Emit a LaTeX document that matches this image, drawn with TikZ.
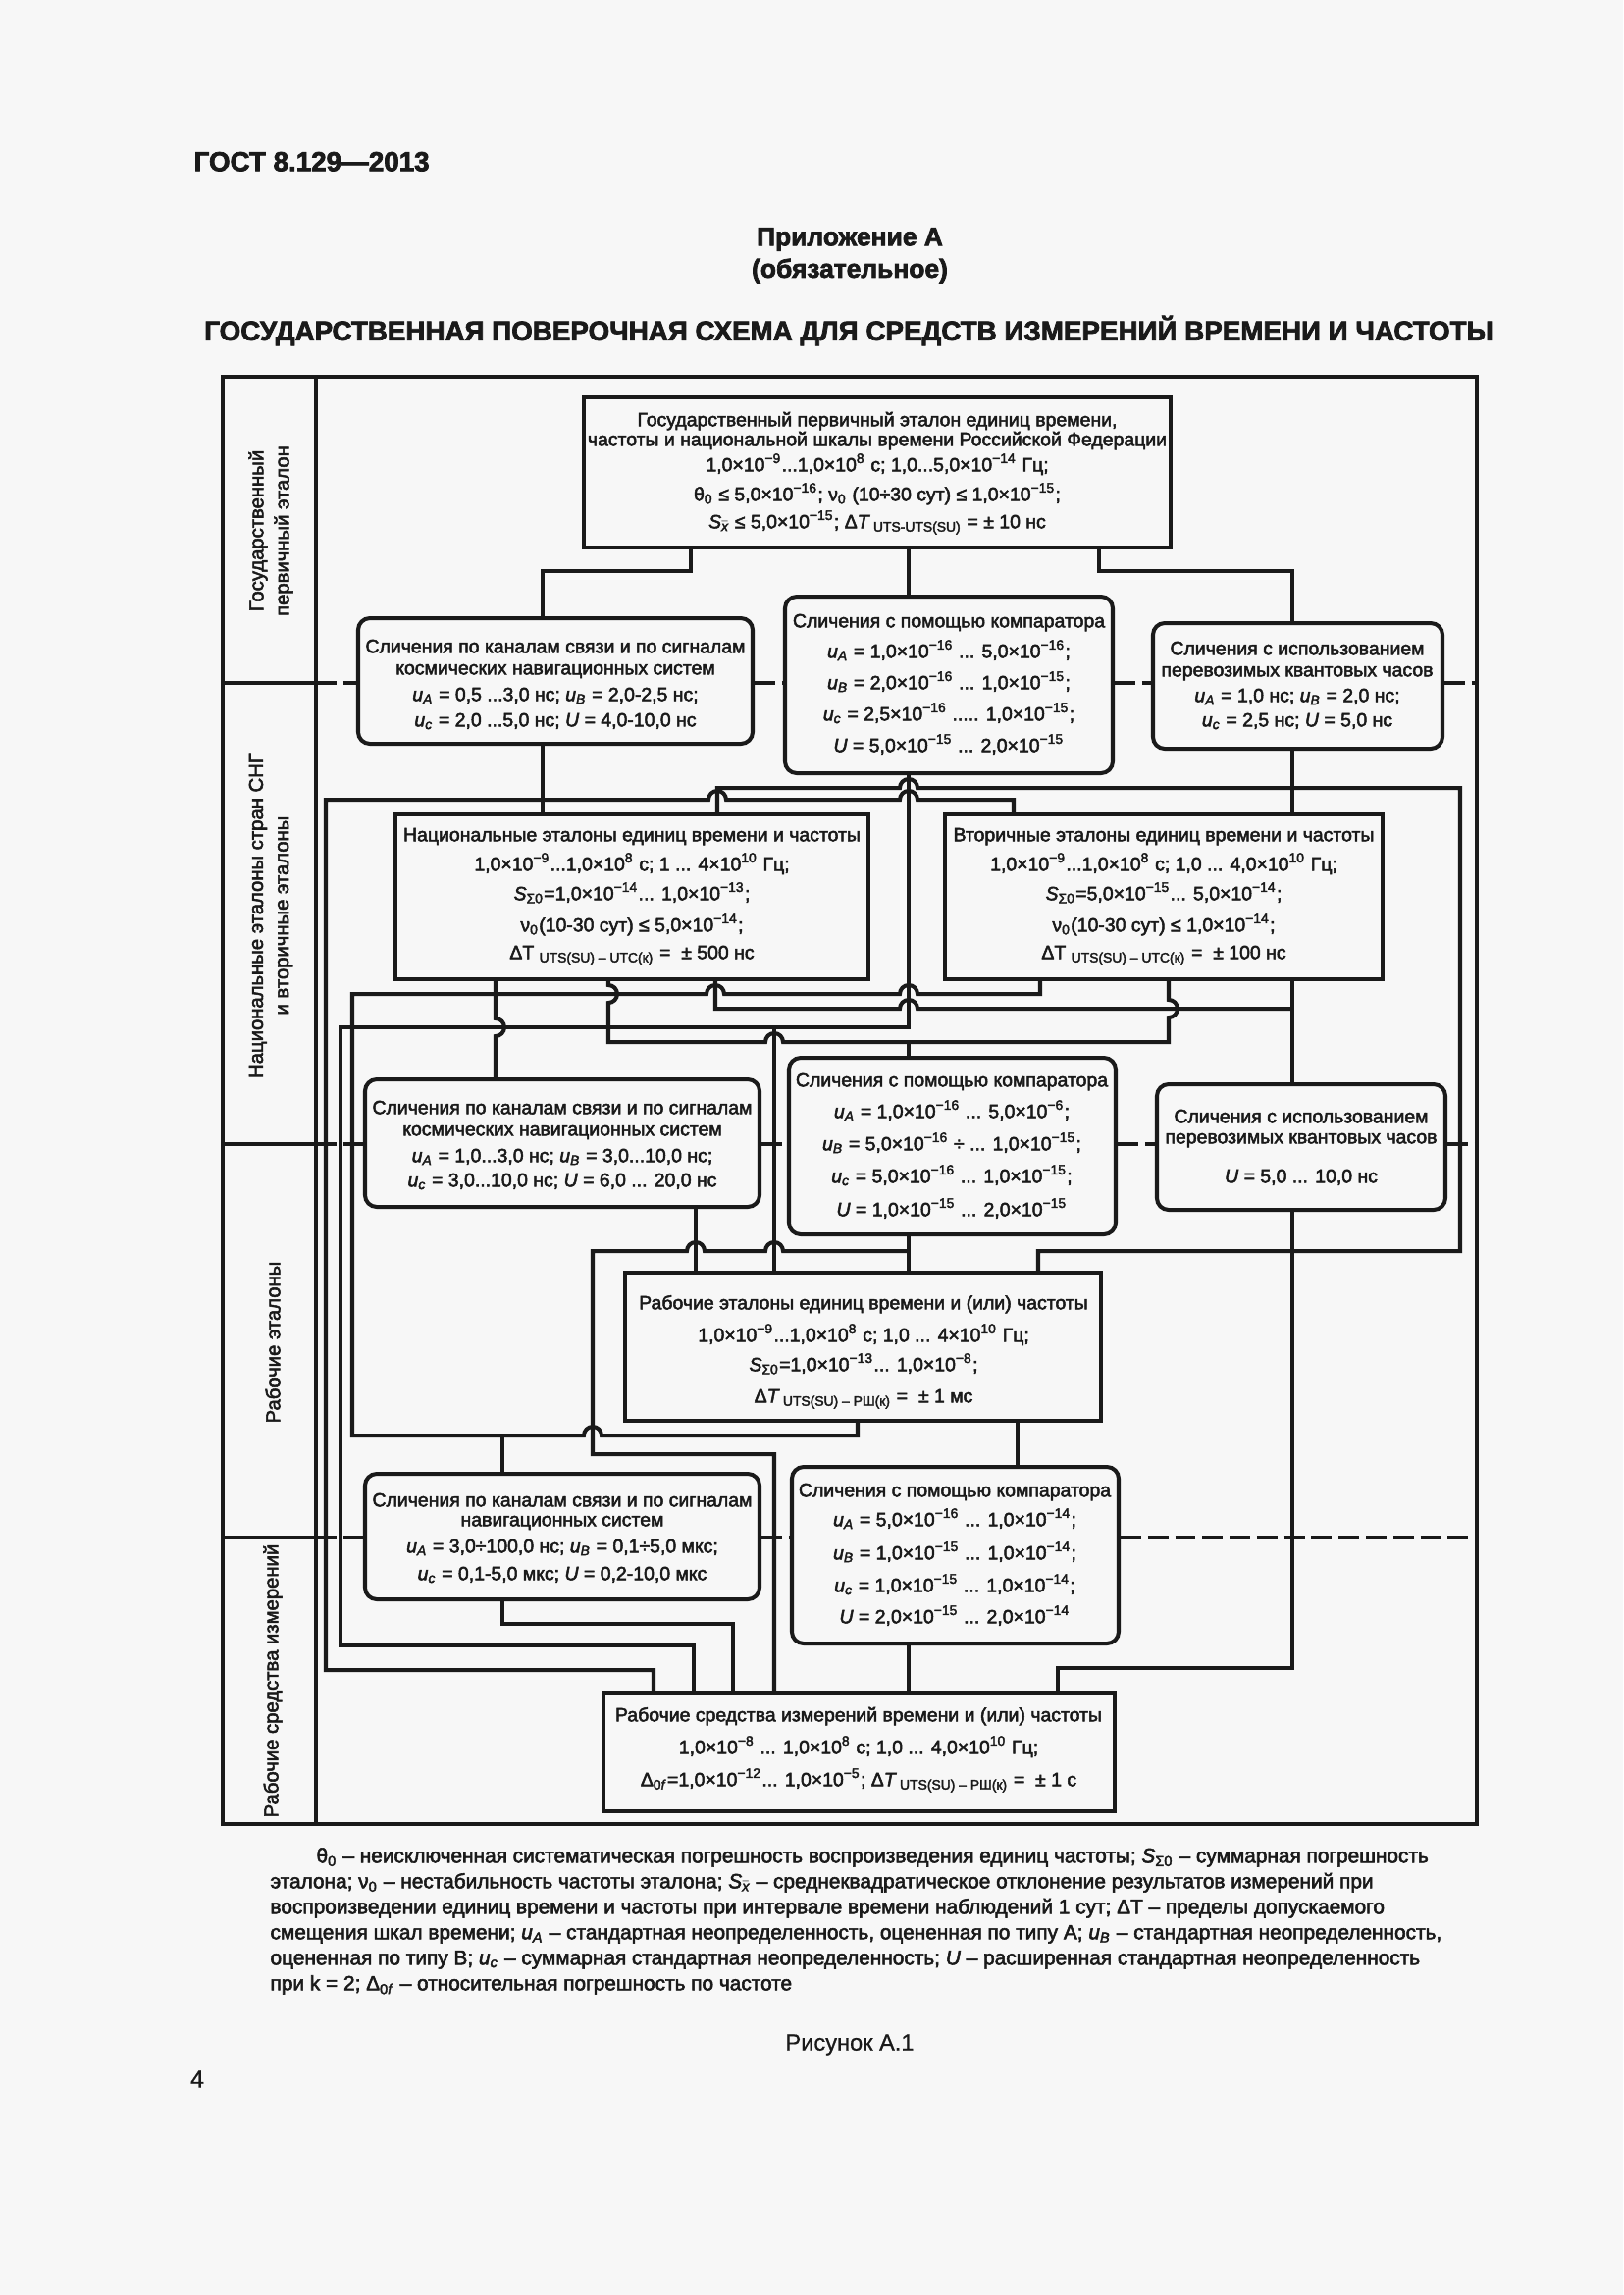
\documentclass[tikz,border=0pt]{standalone}
\usepackage{fontspec}
\setmainfont{Liberation Sans}[FakeBold=2.6]
\newfontfamily\plainsans{Liberation Sans}[FakeBold=0.8]
\usetikzlibrary{fit}
\definecolor{ink}{HTML}{1A1A1A}
\definecolor{paper}{HTML}{F7F7F7}
\newcommand\sps[1]{\textsuperscript{#1}}
\newcommand\sbs[1]{\textsubscript{#1}}
\newcommand\uu[1]{\textit{u}\textsubscript{\textit{#1}}}
\newcommand\UU{\textit{U}}
\newcommand\Sit{\textit{S}}
\newcommand\xbar{$\bar{\mbox{\itshape x}}$}
\newcommand\boxtext[3]{\foreach \yy/\lt [count=\ii] in {#3} {\node[txt] (#1t\ii) at (#2,\yy) {\lt};}}
\begin{document}
\begin{tikzpicture}[x=0.36pt,y=-0.36pt,
  sbox/.style={draw=ink, line width=1.45pt, inner sep=0pt, fill=paper},
  rbox/.style={sbox, rounded corners=4.3pt},
  txt/.style={inner sep=0pt, anchor=mid, text=ink, font=\fontsize{7}{8.4}\selectfont},
  conn/.style={draw=ink, line width=1.45pt},
  sepl/.style={draw=ink, line width=1.45pt, dash pattern=on 7.5pt off 2.5pt},
  lbl/.style={rotate=90, align=center, inner sep=0pt, text=ink, font=\fontsize{7.3}{9.4}\selectfont},
  note/.style={anchor=mid west, inner sep=0pt, text=ink, font=\fontsize{7.5}{9}\selectfont}]
\fill[paper] (0,0) rectangle (1654,2339);
\useasboundingbox (0,0) rectangle (1654,2339);

% header
\node[anchor=mid west, inner sep=0pt, text=ink, font=\bfseries\fontsize{10}{12}\selectfont] (hdr) at (197,167) {ГОСТ 8.129—2013};
\node[inner sep=0pt, text=ink, font=\bfseries\fontsize{9.5}{11}\selectfont] (app) at (866,244) {Приложение А};
\node[inner sep=0pt, text=ink, font=\bfseries\fontsize{9.5}{11}\selectfont] (app2) at (866,276) {(обязательное)};
\node[inner sep=0pt, text=ink, font=\bfseries\fontsize{10}{12}\selectfont] (title) at (865,337) {ГОСУДАРСТВЕННАЯ ПОВЕРОЧНАЯ СХЕМА ДЛЯ СРЕДСТВ ИЗМЕРЕНИЙ ВРЕМЕНИ И ЧАСТОТЫ};

% frame
\draw[conn] (227,384) rectangle (1505,1859);
\draw[conn] (322,384) -- (322,1859);
\draw[conn] (227,696) -- (322,696);
\draw[conn] (227,1166) -- (322,1166);
\draw[conn] (227,1567) -- (322,1567);
\node[lbl] (L1) at (276,541) {Государственный\\первичный эталон};
\node[lbl] (L2) at (276,933) {Национальные эталоны стран СНГ\\и вторичные эталоны};
\node[lbl] (L3) at (278,1368) {Рабочие эталоны};
\node[lbl] (L4) at (278,1713) {Рабочие средства измерений};

% boxes
\node[sbox, fit={(595,405) (1193,558)}] (B1) {};
\node[rbox, fit={(365,630) (767,758)}] (B2) {};
\node[rbox, fit={(800,608) (1134,788)}] (B3) {};
\node[rbox, fit={(1175,635) (1470,763)}] (B4) {};
\node[sbox, fit={(403,830) (885,998)}] (B5) {};
\node[sbox, fit={(963,830) (1409,998)}] (B6) {};
\node[rbox, fit={(372,1100) (774,1230)}] (B7) {};
\node[rbox, fit={(804,1078) (1137,1258)}] (B8) {};
\node[rbox, fit={(1179,1105) (1473,1233)}] (B9) {};
\node[sbox, fit={(637,1297) (1122,1448)}] (B10) {};
\node[rbox, fit={(372,1502) (774,1630)}] (B11) {};
\node[rbox, fit={(807,1495) (1140,1675)}] (B12) {};
\node[sbox, fit={(615,1725) (1136,1846)}] (B13) {};

% dashed level separators
\draw[sepl] (322,696) -- (B2.west |- 0,696);
\draw[sepl] (B2.east |- 0,696) -- (B3.west |- 0,696);
\draw[sepl] (B3.east |- 0,696) -- (B4.west |- 0,696);
\draw[sepl] (B4.east |- 0,696) -- (1505,696);
\draw[sepl] (322,1166) -- (B7.west |- 0,1166);
\draw[sepl] (B7.east |- 0,1166) -- (B8.west |- 0,1166);
\draw[sepl] (B8.east |- 0,1166) -- (B9.west |- 0,1166);
\draw[sepl] (B9.east |- 0,1166) -- (1505,1166);
\draw[sepl] (322,1567) -- (B11.west |- 0,1567);
\draw[sepl] (B11.east |- 0,1567) -- (B12.west |- 0,1567);
\draw[sepl] (B12.east |- 0,1567) -- (1505,1567);

% connectors
\draw[conn] (B1.south -| 704,0) -- (704,582) -- (553,582) -- (B2.north -| 553,0);
\draw[conn] (B1.south -| 926,0) -- (B3.north -| 926,0);
\draw[conn] (B1.south -| 1120,0) -- (1120,582) -- (1317,582) -- (B4.north -| 1317,0);
\draw[conn] (B2.south -| 553,0) -- (B5.north -| 553,0);
\draw[conn] (B4.south -| 1317,0) -- (B6.north -| 1317,0);
% line A
\draw[conn] (B5.north -| 731,0) -- (731,803) -- (917,803) arc[start angle=180,end angle=360,radius=9] -- (1488,803) -- (1488,1275) -- (1058,1275) -- (B10.north -| 1058,0);
% line B
\draw[conn] (B6.north -| 1033,0) -- (1033,815) -- (935,815) arc[start angle=0,end angle=-180,radius=9] -- (740,815) arc[start angle=0,end angle=-180,radius=9] -- (332,815) -- (332,1702) -- (666,1702) -- (B13.north -| 666,0);
% line E from comparator B3
\draw[conn] (B3.south -| 926,0) -- (926,1047) -- (347,1047) -- (347,1677) -- (707,1677) -- (B13.north -| 707,0);
\coordinate (jE) at (789,1047);
\draw[conn] (jE) -- (B10.north -| 789,0);
% line C
\draw[conn] (B6.south -| 1060,0) -- (1060,1013) -- (935,1013) arc[start angle=0,end angle=-180,radius=9] -- (738,1013) arc[start angle=0,end angle=-180,radius=9] -- (359,1013) -- (359,1463) -- (595,1463) arc[start angle=180,end angle=360,radius=9] -- (874,1463) -- (B10.south -| 874,0);
\coordinate (jH) at (512,1463);
\draw[conn] (jH) -- (B11.north -| 512,0);
% line D
\coordinate (jD) at (1317,1028);
\draw[conn] (B5.south -| 729,0) -- (729,1028) -- (917,1028) arc[start angle=180,end angle=360,radius=9] -- (jD);
% line F
\draw[conn] (B5.south -| 620,0) -- (620,1004) arc[start angle=-90,end angle=90,radius=9] -- (620,1062) -- (780,1062) arc[start angle=180,end angle=360,radius=9] -- (1191,1062) -- (1191,1037) arc[start angle=90,end angle=-90,radius=9] -- (B6.south -| 1191,0);
\coordinate (jF) at (926,1062);
\draw[conn] (jF) -- (B8.north -| 926,0);
% national -> B7
\draw[conn] (B5.south -| 505,0) -- (505,1038) arc[start angle=-90,end angle=90,radius=9] -- (B7.north -| 505,0);
\draw[conn] (B7.south -| 709,0) -- (B10.north -| 709,0);
% line G from B8
\draw[conn] (B8.south -| 926,0) -- (B10.north -| 926,0);
\coordinate (jG) at (926,1275);
\draw[conn] (jG) -- (798,1275) arc[start angle=0,end angle=-180,radius=9] -- (718,1275) arc[start angle=0,end angle=-180,radius=9] -- (604,1275) -- (604,1482) -- (789,1482) -- (B13.north -| 789,0);
% right chain
\draw[conn] (B6.south -| 1317,0) -- (B9.north -| 1317,0);
\draw[conn] (B9.south -| 1317,0) -- (1317,1700) -- (1078,1700) -- (B13.north -| 1078,0);
\draw[conn] (B10.south -| 1037,0) -- (B12.north -| 1037,0);
\draw[conn] (B12.south -| 926,0) -- (B13.north -| 926,0);
\draw[conn] (B11.south -| 512,0) -- (512,1655) -- (747,1655) -- (B13.north -| 747,0);

% box texts
\boxtext{B1}{894}{427/{Государственный первичный эталон единиц времени,},
447/{частоты и национальной шкалы времени Российской Федерации},
473/{1,0×10\sps{−9}...1,0×10\sps{8} с; 1,0...5,0×10\sps{−14} Гц;},
503/{θ\sbs{0} ≤ 5,0×10\sps{−16}; ν\sbs{0} (10÷30 сут) ≤ 1,0×10\sps{−15};},
531/{\Sit\sbs{\xbar} ≤ 5,0×10\sps{−15}; Δ\textit{T}\,\sbs{UTS-UTS(SU)} = ± 10 нс}}
\boxtext{B2}{566}{658/{Сличения по каналам связи и по сигналам},
680/{космических навигационных систем},
707/{\uu{A} = 0,5 ...3,0 нс; \uu{B} = 2,0-2,5 нс;},
733/{\uu{c} = 2,0 ...5,0 нс; \UU{} = 4,0-10,0 нс}}
\boxtext{B3}{967}{632/{Сличения с помощью компаратора},
663/{\uu{A} = 1,0×10\sps{−16} ... 5,0×10\sps{−16};},
695/{\uu{B} = 2,0×10\sps{−16} ... 1,0×10\sps{−15};},
727/{\uu{c} = 2,5×10\sps{−16} ..... 1,0×10\sps{−15};},
759/{\UU{} = 5,0×10\sps{−15} ... 2,0×10\sps{−15}}}
\boxtext{B4}{1322}{660/{Сличения с использованием},
682/{перевозимых квантовых часов},
708/{\uu{A} = 1,0 нс; \uu{B} = 2,0 нс;},
733/{\uu{c} = 2,5 нс; \UU{} = 5,0 нс}}
\boxtext{B5}{644}{850/{Национальные эталоны единиц времени и частоты},
880/{1,0×10\sps{−9}...1,0×10\sps{8} с; 1 ... 4×10\sps{10} Гц;},
910/{\Sit\sbs{Σ0}=1,0×10\sps{−14}... 1,0×10\sps{−13};},
942/{ν\sbs{0}(10-30 сут) ≤ 5,0×10\sps{−14};},
970/{ΔT \sbs{UTS(SU) – UTC(к)} =~ ± 500 нс}}
\boxtext{B6}{1186}{850/{Вторичные эталоны единиц времени и частоты},
880/{1,0×10\sps{−9}...1,0×10\sps{8} с; 1,0 ... 4,0×10\sps{10} Гц;},
910/{\Sit\sbs{Σ0}=5,0×10\sps{−15}... 5,0×10\sps{−14};},
942/{ν\sbs{0}(10-30 сут) ≤ 1,0×10\sps{−14};},
970/{ΔT \sbs{UTS(SU) – UTC(к)} =~ ± 100 нс}}
\boxtext{B7}{573}{1128/{Сличения по каналам связи и по сигналам},
1150/{космических навигационных систем},
1177/{\uu{A} = 1,0...3,0 нс; \uu{B} = 3,0...10,0 нс;},
1202/{\uu{c} = 3,0...10,0 нс; \UU{} = 6,0 ... 20,0 нс}}
\boxtext{B8}{970}{1100/{Сличения с помощью компаратора},
1132/{\uu{A} = 1,0×10\sps{−16} ... 5,0×10\sps{−6};},
1165/{\uu{B} = 5,0×10\sps{−16} ÷ ... 1,0×10\sps{−15};},
1198/{\uu{c} = 5,0×10\sps{−16} ... 1,0×10\sps{−15};},
1232/{\UU{} = 1,0×10\sps{−15} ... 2,0×10\sps{−15}}}
\boxtext{B9}{1326}{1137/{Сличения с использованием},
1158/{перевозимых квантовых часов},
1198/{\UU{} = 5,0 ... 10,0 нс}}
\boxtext{B10}{880}{1327/{Рабочие эталоны единиц времени и (или) частоты},
1360/{1,0×10\sps{−9}...1,0×10\sps{8} с; 1,0 ... 4×10\sps{10} Гц;},
1390/{\Sit\sbs{Σ0}=1,0×10\sps{−13}... 1,0×10\sps{−8};},
1422/{Δ\textit{T}\,\sbs{UTS(SU) – РШ(к)} =~ ± 1 мс}}
\boxtext{B11}{573}{1528/{Сличения по каналам связи и по сигналам},
1548/{навигационных систем},
1575/{\uu{A} = 3,0÷100,0 нс; \uu{B} = 0,1÷5,0 мкс;},
1603/{\uu{c} = 0,1-5,0 мкс; \UU{} = 0,2-10,0 мкс}}
\boxtext{B12}{973}{1518/{Сличения с помощью компаратора},
1548/{\uu{A} = 5,0×10\sps{−16} ... 1,0×10\sps{−14};},
1582/{\uu{B} = 1,0×10\sps{−15} ... 1,0×10\sps{−14};},
1615/{\uu{c} = 1,0×10\sps{−15} ... 1,0×10\sps{−14};},
1647/{\UU{} = 2,0×10\sps{−15} ... 2,0×10\sps{−14}}}
\boxtext{B13}{875}{1747/{Рабочие средства измерений времени и (или) частоты},
1780/{1,0×10\sps{−8} ... 1,0×10\sps{8} с; 1,0 ... 4,0×10\sps{10} Гц;},
1813/{Δ\sbs{0\textit{f}}=1,0×10\sps{−12}... 1,0×10\sps{−5}; Δ\textit{T}\,\sbs{UTS(SU) – РШ(к)} =~ ± 1 с}}

% footnote
\node[note] (n1) at (322,1891) {θ\sbs{0} – неисключенная систематическая погрешность воспроизведения единиц частоты; \Sit\sbs{Σ0} – суммарная погрешность};
\node[note] (n2) at (275,1917) {эталона; ν\sbs{0} – нестабильность частоты эталона; \Sit\sbs{\xbar} – среднеквадратическое отклонение результатов измерений при};
\node[note] (n3) at (275,1943) {воспроизведении единиц времени и частоты при интервале времени наблюдений 1 сут; ΔT – пределы допускаемого};
\node[note] (n4) at (275,1969) {смещения шкал времени; \uu{A} – стандартная неопределенность, оцененная по типу А; \uu{B} – стандартная неопределенность,};
\node[note] (n5) at (275,1995) {оцененная по типу В; \uu{c} – суммарная стандартная неопределенность; \UU{} – расширенная стандартная неопределенность};
\node[note] (n6) at (275,2021) {при k = 2; Δ\sbs{0\textit{f}} – относительная погрешность по частоте};

\node[inner sep=0pt, text=ink, font=\plainsans\fontsize{8.5}{10}\selectfont] (fig) at (866,2084) {Рисунок А.1};
\node[inner sep=0pt, text=ink, font=\plainsans\fontsize{9}{10}\selectfont] (pg) at (201,2119) {4};
\end{tikzpicture}
\end{document}
